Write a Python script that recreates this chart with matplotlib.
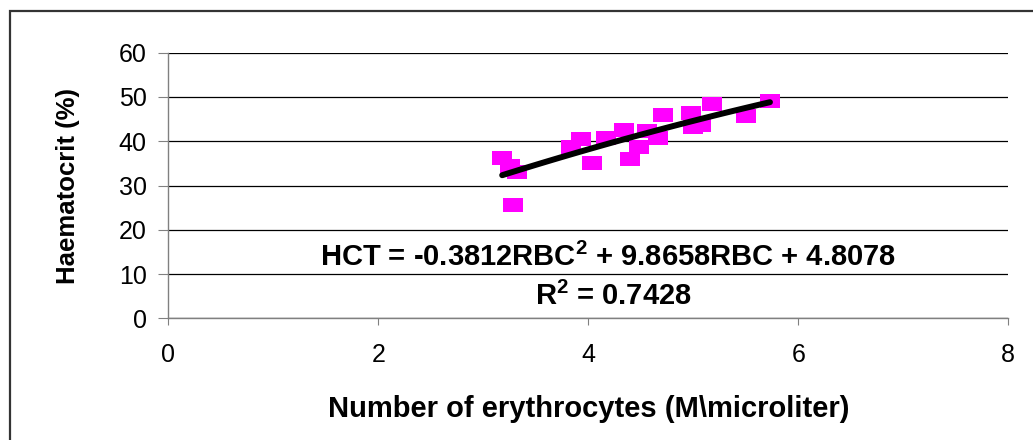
import numpy as np
import matplotlib
matplotlib.use("Agg")
import matplotlib.pyplot as plt
from matplotlib.patches import Rectangle

plt.rcParams['font.family'] = ['Liberation Sans', 'DejaVu Sans']
plt.rcParams['mathtext.fontset'] = 'custom'
plt.rcParams['mathtext.rm'] = 'Liberation Sans'
plt.rcParams['mathtext.bf'] = 'Liberation Sans:bold'

# data
rbc = [3.18, 3.25, 3.32, 3.28, 3.84, 3.93, 4.04, 4.17, 4.34, 4.40,
       4.48, 4.56, 4.66, 4.71, 4.98, 5.00, 5.07, 5.18, 5.50, 5.73]
hct = [36.2, 34.5, 33.1, 25.5, 38.7, 40.4, 35.0, 40.8, 42.6, 36.0,
       38.7, 42.3, 40.8, 45.9, 46.4, 43.2, 43.6, 48.4, 45.8, 49.2]

# trendline coefficients as printed on the chart
coef = [-0.3812, 9.8658, 4.8078]
r2 = 0.7428

x_ticks = [0, 2, 4, 6, 8]
y_ticks = [0, 10, 20, 30, 40, 50, 60]

fig = plt.figure(figsize=(10.33, 4.4), dpi=100)
ax = fig.add_axes([0.1629, 0.2766, 0.8132, 0.6036])

ax.set_xlim(0, 8)
ax.set_ylim(0, 60)
ax.set_xticks(x_ticks)
ax.set_yticks(y_ticks)
ax.set_axisbelow(True)
ax.yaxis.grid(True, color='black', linewidth=0.9)

for side in ['top', 'right']:
    ax.spines[side].set_visible(False)
for side in ['left', 'bottom']:
    ax.spines[side].set_color('#808080')
    ax.spines[side].set_linewidth(1.0)

ax.tick_params(axis='y', direction='out', length=7.5, width=0.8, color='#808080',
               labelsize=18, pad=8)
ax.tick_params(axis='x', direction='out', length=5, width=0.8, color='#808080',
               labelsize=18, pad=13)

# rectangular markers, slightly wider than tall
box = [(-1, -0.78), (1, -0.78), (1, 0.78), (-1, 0.78), (-1, -0.78)]
ax.plot(rbc, hct, linestyle='none', marker=box, markersize=13.7,
        color='#FF00FF', markeredgewidth=0, zorder=3)

xs = np.linspace(min(rbc), max(rbc), 100)
ax.plot(xs, np.polyval(coef, xs), color='black', linewidth=4.3,
        solid_capstyle='round', zorder=4)

eq = r'HCT = %.4fRBC$^{\mathbf{2}}$ + %.4fRBC + %.4f' % tuple(coef)
ax.text(4.19, 13.8, eq, ha='center', va='center', fontsize=21,
        fontweight='bold', zorder=5)
ax.text(4.24, 5.0, r'R$^{\mathbf{2}}$ = %.4f' % r2, ha='center', va='center',
        fontsize=21, fontweight='bold', zorder=5)

ax.set_xlabel('Number of erythrocytes (M\\microliter)', fontsize=21,
              fontweight='bold', labelpad=20)
ax.set_ylabel('Haematocrit (%)', fontsize=18.5, fontweight='bold', labelpad=28)

# outer chart border (runs off the right and bottom edges)
fig.add_artist(Rectangle((10 / 1033, -0.1), 1.2, (440 - 11) / 440 + 0.1,
                         transform=fig.transFigure, fill=False,
                         edgecolor='#333333', linewidth=1.6))

fig.savefig('out.png', dpi=100)
